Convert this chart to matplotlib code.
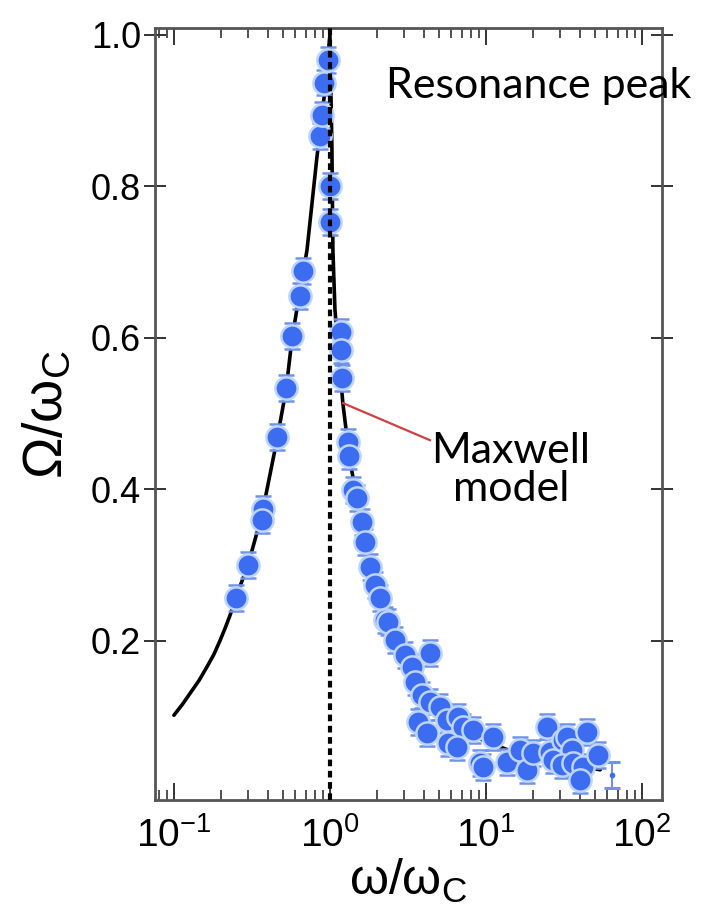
import matplotlib
matplotlib.use("Agg")
import matplotlib.pyplot as plt
from matplotlib.ticker import LogLocator, NullFormatter

# ---------------- data ----------------
model_x = [0.100, 0.113, 0.127, 0.145, 0.163, 0.180, 0.197, 0.213, 0.229, 0.249,
           0.298, 0.366, 0.457, 0.523, 0.570, 0.643, 0.713, 0.826, 0.929, 1.000,
           1.030, 1.045, 1.077, 1.21, 1.34, 1.68, 2.09, 2.78, 4.38, 7.9, 16.5, 54.0]
model_y = [0.102, 0.116, 0.131, 0.148, 0.166, 0.182, 0.200, 0.217, 0.234, 0.257,
           0.300, 0.366, 0.465, 0.531, 0.597, 0.663, 0.716, 0.839, 0.927, 1.000,
           0.850, 0.716, 0.637, 0.514, 0.439, 0.331, 0.257, 0.191, 0.122, 0.076,
           0.050, 0.030]

data_x = [0.249, 0.298, 0.372, 0.367, 0.457, 0.523, 0.570, 0.643, 0.671,
          0.863, 0.889, 0.916, 0.970, 1.00, 1.00,
          1.178, 1.18, 1.19, 1.30, 1.325, 1.40, 1.49, 1.60, 1.68, 1.80, 1.94,
          2.09, 2.25, 2.35, 2.61, 3.03, 3.35, 4.38, 3.51, 3.89, 4.38, 5.07,
          5.62, 3.66, 6.62, 7.12, 8.26, 4.19, 5.71, 6.52, 9.15, 11.1, 9.57,
          13.6, 16.5, 18.3, 20.0, 24.6, 25.7, 26.9, 31.2, 33.0, 35.6, 30.7,
          36.1, 44.4, 41.9, 40.1, 52.2]
data_y = [0.257, 0.300, 0.374, 0.360, 0.469, 0.534, 0.603, 0.655, 0.688,
          0.866, 0.894, 0.937, 0.967, 0.800, 0.753,
          0.608, 0.584, 0.547, 0.463, 0.444, 0.399, 0.389, 0.357, 0.331, 0.298, 0.274,
          0.257, 0.228, 0.225, 0.201, 0.182, 0.166, 0.184, 0.146, 0.129, 0.120, 0.113,
          0.096, 0.093, 0.100, 0.087, 0.083, 0.079, 0.065, 0.060, 0.039, 0.073, 0.034,
          0.040, 0.056, 0.030, 0.052, 0.087, 0.054, 0.043, 0.069, 0.073, 0.056, 0.036,
          0.039, 0.080, 0.034, 0.017, 0.050]
data_err = 0.017

tail_x = [64.2]
tail_y = [0.023]

x_label = r"$\omega/\omega_C$"
y_label = r"$\Omega/\omega_C$"
y_ticks = [0.2, 0.4, 0.6, 0.8, 1.0]
y_ticklabels = ["0.2", "0.4", "0.6", "0.8", "1.0"]
x_ticks = [0.1, 1, 10, 100]
x_ticklabels = [r"$10^{-1}$", r"$10^{0}$", r"$10^{1}$", r"$10^{2}$"]

# ---------------- figure ----------------
plt.rcParams["font.family"] = ["Liberation Sans", "DejaVu Sans"]
plt.rcParams["mathtext.fontset"] = "custom"
plt.rcParams["mathtext.rm"] = "Liberation Sans"
plt.rcParams["mathtext.it"] = "Liberation Sans"
plt.rcParams["mathtext.default"] = "regular"

fig = plt.figure(figsize=(7.04, 9.18), dpi=100)
ax = fig.add_axes([0.220, 0.1285, 0.720, 0.841])

ax.set_xscale("log")
ax.set_xlim(0.0755, 134)
ax.set_ylim(-0.0099, 1.009)

# model curve
ax.plot(model_x, model_y, color="black", lw=2.6, zorder=2, solid_joinstyle="round",
        solid_capstyle="round")

# data with error bars
ax.errorbar(data_x, data_y, yerr=data_err, fmt="o", ms=16,
            mfc="#3c6cf0", mec="#bcd4ff", mew=1.8,
            ecolor="#6f92ea", elinewidth=1.2, capsize=6, capthick=2.2, zorder=3)
ax.errorbar(tail_x, tail_y, yerr=data_err, fmt="o", ms=3,
            mfc="#3c6cf0", mec="#3c6cf0",
            ecolor="#6f92ea", elinewidth=1.5, capsize=6, capthick=2.2, zorder=3)

# dashed vertical line at omega = omega_C
ax.axvline(1.0, color="black", lw=3.0, ls=(0, (1.6, 1.1)), zorder=4)

# annotation
ax.plot([1.21, 4.38], [0.514, 0.465], color="#d04040", lw=1.6, zorder=2.5)
ax.text(14.5, 0.426, "Maxwell\nmodel", fontsize=31, family=["Lato", "DejaVu Sans"],
        ha="center", va="center", linespacing=1.0, zorder=5)
ax.text(2.28, 0.932, "Resonance peak", fontsize=31, family=["Lato", "DejaVu Sans"],
        ha="left", va="center", zorder=5, clip_on=False)

# ticks
ax.set_yticks(y_ticks)
ax.set_yticklabels(y_ticklabels)
ax.set_xticks(x_ticks)
ax.set_xticklabels(x_ticklabels)
ax.xaxis.set_minor_locator(LogLocator(base=10, subs=range(2, 10), numticks=20))
ax.xaxis.set_minor_formatter(NullFormatter())
ax.tick_params(axis="y", which="major", direction="inout", length=16, width=1.4,
               labelsize=26, left=True, right=True, pad=2, colors="#333333",
               labelcolor="black")
ax.tick_params(axis="x", which="major", direction="in", length=12, width=1.4,
               labelsize=28, top=True, bottom=True, pad=12, colors="#333333",
               labelcolor="black")
ax.tick_params(axis="x", which="minor", direction="in", length=7, width=1.2,
               top=True, bottom=True, colors="#333333")

for s in ax.spines.values():
    s.set_linewidth(2.0)
    s.set_color("#555555")

ax.set_xlabel(x_label, fontsize=36, labelpad=2)
ax.set_ylabel(y_label, fontsize=40, labelpad=12)

fig.savefig("out.png", dpi=100)
